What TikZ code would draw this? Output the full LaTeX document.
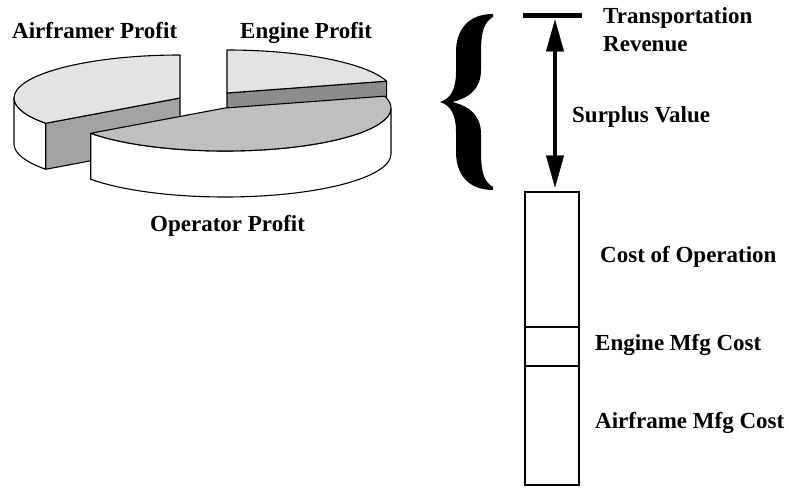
\documentclass[tikz,border=0pt]{standalone}
\usepackage{fontspec}
\setmainfont{Liberation Serif}
\usetikzlibrary{arrows.meta,calc}
\definecolor{lighttop}{gray}{0.89}
\definecolor{optop}{gray}{0.75}
\definecolor{darkA}{gray}{0.64}
\definecolor{darkE}{gray}{0.55}
\begin{document}
\begin{tikzpicture}[x=1pt,y=-1pt,
  lbl/.style={font=\fontsize{23}{27}\selectfont\bfseries, inner sep=0pt, anchor=base west},
  face/.style={draw=black, line width=1.1pt, line join=round},
  ell/.style={x radius=166pt, y radius=43pt},
  stackbox/.style={draw=black, line width=1.2pt, minimum width=54pt, inner sep=0pt},
  tipbig/.tip={Triangle[length=32pt,width=18pt,line width=0.4pt]}]
\useasboundingbox (0,0) rectangle (789,487);

% ---------- pie ----------
\coordinate (A) at (180,98);
\coordinate (E) at (227,93);
\coordinate (O) at (225,108);
\coordinate (E16) at ($(E)+(16:166pt and 43pt)$);
\coordinate (E90) at ($(E)+(90:166pt and 43pt)$);
\coordinate (A90) at ($(A)+(90:166pt and 43pt)$);
\coordinate (A180) at ($(A)+(180:166pt and 43pt)$);
\coordinate (A216) at ($(A)+(216:166pt and 43pt)$);
\coordinate (O216) at ($(O)+(216:166pt and 43pt)$);

% engine slice
\filldraw[face, fill=darkE] (E) -- (E16) -- ++(0,46) -- ($(E)+(0,46)$) -- cycle;
\filldraw[face, fill=lighttop] (E) -- (E90) arc[start angle=90, end angle=16, ell] -- cycle;

% airframer slice
\filldraw[face, fill=white] (A180) arc[start angle=180, end angle=216, ell] -- ++(0,46)
   arc[start angle=216, end angle=180, ell] -- cycle;
\filldraw[face, fill=darkA] (A) -- (A216) -- ++(0,46) -- ($(A)+(0,46)$) -- cycle;
\filldraw[face, fill=lighttop] (A) -- (A90) arc[start angle=90, end angle=216, ell] -- cycle;

% operator slice
\filldraw[face, fill=white] (O216) arc[start angle=216, end angle=360, ell] -- ++(0,46)
   arc[start angle=360, end angle=216, ell] -- cycle;
\filldraw[face, fill=optop] (O) -- (O216) arc[start angle=216, end angle=376, ell] -- cycle;

\node[lbl] (afp) at (12,38) {Airframer Profit};
\node[lbl] (enp) at (240,38) {Engine Profit};
\node[lbl] (opp) at (150,231) {Operator Profit};

% ---------- brace ----------
\fill[black] (493,14) .. controls (468,14) and (456,30) .. (456,52) -- (456,72)
  .. controls (456,90) and (450,99) .. (440,102)
  .. controls (450,105) and (456,114) .. (456,132) -- (456,152)
  .. controls (456,174) and (468,190) .. (493,190)
  -- (493,187) .. controls (484,182) and (481,172) .. (481,152) -- (481,134)
  .. controls (481,116) and (470,106) .. (452,102)
  .. controls (470,98) and (481,88) .. (481,70) -- (481,52)
  .. controls (481,32) and (484,22) .. (493,17) -- cycle;

% ---------- revenue bar and arrow ----------
\coordinate (trL) at (523,16);
\coordinate (trR) at (582,16);
\draw[line width=5pt] (trL) -- (trR);
\coordinate (svTop) at (555,19.5);
\coordinate (svBot) at (555,187.5);
\draw[line width=4.5pt, tipbig-tipbig] (svTop) -- (svBot);

\node[lbl] (tr1) at (603,24) {Transportation};
\node[lbl] (tr2) at (603,52) {Revenue};
\node[lbl] (sv) at (572,122.5) {Surplus Value};

% ---------- cost stack ----------
\node[stackbox, minimum height=135pt] (cop) at (552,259.5) {};
\node[stackbox, minimum height=39pt] (eng) at (552,346.5) {};
\node[stackbox, minimum height=119pt] (afr) at (552,425.5) {};

\node[lbl] (copl) at (600,262) {Cost of Operation};
\node[lbl] (engl) at (595,350) {Engine Mfg Cost};
\node[lbl] (afrl) at (595,428) {Airframe Mfg Cost};
\end{tikzpicture}
\end{document}
